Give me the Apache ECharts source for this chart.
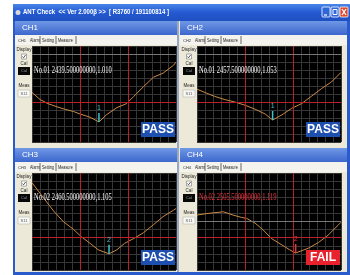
<!DOCTYPE html>
<html>
<head>
<meta charset="utf-8">
<script src="https://cdn.jsdelivr.net/npm/echarts@6/dist/echarts.min.js"></script>
<style>
html,body{margin:0;padding:0;background:#fff}
#main{width:350px;height:275px}
</style>
</head>
<body>
<div id="main"></div>
<script>
// swept traces (x = MHz, y = screen divisions)
const ch1Freq = [2300, 2317, 2333, 2352, 2368, 2387, 2400, 2421, 2439.5, 2455, 2477, 2497, 2512, 2532, 2553, 2573, 2595, 2600];
const ch1Level = [6.2, 5.3, 4.8, 4.4, 4.1, 3.8, 3.5, 3.1, 2.5, 3.4, 4.3, 4.8, 5.7, 6.9, 8.1, 8.6, 9.6, 10.0];

const ch2Freq = [2300, 2320, 2337, 2358, 2379, 2400, 2421, 2442, 2457.5, 2477, 2497, 2518, 2538, 2560, 2580, 2600];
const ch2Level = [6.6, 6.1, 5.7, 5.3, 5.0, 4.6, 4.1, 3.5, 2.75, 3.4, 4.2, 4.8, 5.7, 6.7, 7.5, 8.7];

const ch3Freq = [2300, 2323, 2345, 2365, 2387, 2403, 2421, 2438, 2460.5, 2477, 2493, 2512, 2532, 2553, 2573, 2595, 2600];
const ch3Level = [10.8, 9.0, 7.3, 6.0, 5.0, 4.1, 3.3, 2.5, 2.0, 2.5, 3.3, 3.9, 4.6, 5.6, 6.6, 7.4, 7.6];

const ch4Freq = [2300, 2323, 2355, 2375, 2393, 2403, 2421, 2438, 2455, 2477, 2493, 2505.5, 2532, 2553, 2573, 2595, 2600];
const ch4Level = [6.8, 7.0, 7.2, 6.8, 6.5, 6.4, 5.8, 4.95, 3.9, 3.1, 2.5, 2.1, 2.7, 3.4, 4.3, 5.6, 5.9];

const channels = ['CH1', 'CH2', 'CH3', 'CH4'];
const markerNo = ['No.01', 'No.01', 'No.02', 'No.02'];
const markerIdx = ['1', '1', '2', '2'];
const markerFreq = [2439.5, 2457.5, 2460.5, 2505.5];
const markerLevel = [2.5, 2.75, 2.0, 2.1];
const markerVswr = ['1.010', '1.053', '1.105', '1.119'];
const results = ['PASS', 'PASS', 'PASS', 'FAIL'];
const bandEdges = [2400, 2500];
const limitLevel = [5, 5, 4, 4];
const refLevel = [11, 11, null, 6];
const tabNames = ['Alarm', 'Setting', 'Measure'];
const titleText = 'ANT Check  << Ver 2.000\u03b2 >>  [ R3760 / 191100814 ]';

const freqs = [ch1Freq, ch2Freq, ch3Freq, ch4Freq];
const levels = [ch1Level, ch2Level, ch3Level, ch4Level];

// screen layout
const plotLeft = [32, 197, 32, 197];
const plotTop = [46, 46, 173, 173];
const plotW = 144;
const plotH = [96, 96, 97, 97];

const chart = echarts.init(document.getElementById('main'));

const bg = (el) => Object.assign({ z: -5, silent: true }, el);
const fg = (el) => Object.assign({ z: 20, silent: true }, el);
const txt = (x, y, text, font, fill, align, extra) => Object.assign({
    type: 'text', x: x, y: y,
    style: { text: text, font: font, fill: fill, align: align || 'left', textAlign: align || 'left',
             verticalAlign: 'middle', textVerticalAlign: 'middle' }
}, extra || {});

const graphic = [];

// window frame
graphic.push(bg({ type: 'rect', shape: { x: 13, y: 4, width: 337, height: 271 }, style: { fill: '#2a5bcc' } }));
graphic.push(bg({ type: 'rect', shape: { x: 13, y: 4, width: 337, height: 17 },
    style: { fill: { type: 'linear', x: 0, y: 0, x2: 0, y2: 1,
        colorStops: [{ offset: 0, color: '#4a86e8' }, { offset: 0.5, color: '#2459d2' }, { offset: 1, color: '#1f4fc0' }] } } }));
graphic.push(bg({ type: 'rect', shape: { x: 15, y: 21, width: 332, height: 251 }, style: { fill: '#ece9d8' } }));
graphic.push(bg({ type: 'circle', shape: { cx: 18, cy: 12.5, r: 2.5 }, style: { fill: '#d8d8d8' } }));
graphic.push(bg(txt(23, 12.5, titleText, 'bold 7px "Liberation Sans"', '#ffffff', 'left', { scaleX: 0.86 })));
// caption buttons
[[322, '#2f66d8'], [331, '#2f66d8'], [340, '#e0452a']].forEach((b) => {
    graphic.push(bg({ type: 'rect', shape: { x: b[0], y: 7, width: 8, height: 10, r: 1 },
        style: { fill: b[1], stroke: '#ffffff', lineWidth: 0.8 } }));
});
graphic.push(bg({ type: 'line', shape: { x1: 324, y1: 15, x2: 327, y2: 15 }, style: { stroke: '#fff', lineWidth: 1.2 } }));
graphic.push(bg({ type: 'rect', shape: { x: 333, y: 9.5, width: 4, height: 5 }, style: { fill: 'none', stroke: '#fff', lineWidth: 1 } }));
graphic.push(bg({ type: 'line', shape: { x1: 342, y1: 9, x2: 346, y2: 15 }, style: { stroke: '#fff', lineWidth: 1.3 } }));
graphic.push(bg({ type: 'line', shape: { x1: 346, y1: 9, x2: 342, y2: 15 }, style: { stroke: '#fff', lineWidth: 1.3 } }));
graphic.push(bg({ type: 'line', shape: { x1: 178, y1: 21, x2: 178, y2: 272 }, style: { stroke: '#7d92bf', lineWidth: 1.5 } }));

channels.forEach((name, i) => {
    const px = i % 2 ? 180 : 15;
    const pw = i % 2 ? 167 : 162;
    const ox = i % 2 ? 165 : 0;
    const top = plotTop[i] - 25;
    // panel header
    graphic.push(bg({ type: 'rect', shape: { x: px, y: top, width: pw, height: 14 },
        style: { fill: { type: 'linear', x: 0, y: 0, x2: 0, y2: 1,
            colorStops: [{ offset: 0, color: '#6f98e6' }, { offset: 1, color: '#3d67cc' }] } } }));
    graphic.push(bg(txt(px + 7, top + 7, name, '8px "Liberation Sans"', '#ffffff')));
    // tab row
    graphic.push(bg({ type: 'rect', shape: { x: px, y: top + 14, width: pw, height: 10 }, style: { fill: '#f4f3ee' } }));
    graphic.push(bg(txt(px + 3, top + 19.5, name, '4px "Liberation Sans"', '#333')));
    let tx = px + 15;
    tabNames.forEach((t, k) => {
        const w = [9, 13, 17][k];
        graphic.push(bg(txt(tx, top + 19.5, t, '4.5px "Liberation Sans"', '#222', 'left', { scaleX: 0.85 })));
        graphic.push(bg({ type: 'line', shape: { x1: tx + w + 1, y1: top + 15, x2: tx + w + 1, y2: top + 23 },
            style: { stroke: '#444', lineWidth: 0.8 } }));
        tx += w + 3;
    });
    // left control column
    const cx = 24 + ox;
    const y0 = plotTop[i];
    graphic.push(bg(txt(cx, y0 + 4, 'Display', '4.5px "Liberation Sans"', '#222', 'center')));
    graphic.push(bg({ type: 'rect', shape: { x: cx - 2.5, y: y0 + 8, width: 5, height: 5 }, style: { fill: '#fff', stroke: '#777', lineWidth: 0.6 } }));
    graphic.push(bg({ type: 'polyline', shape: { points: [[cx - 1.5, y0 + 10.5], [cx - 0.5, y0 + 11.8], [cx + 1.6, y0 + 9]] }, style: { stroke: '#333', lineWidth: 0.8, fill: 'none' } }));
    graphic.push(bg(txt(cx, y0 + 17.5, 'Cal', '4.5px "Liberation Sans"', '#222', 'center')));
    graphic.push(bg({ type: 'rect', shape: { x: cx - 6, y: y0 + 21, width: 12, height: 8 }, style: { fill: '#080808' } }));
    graphic.push(bg(txt(cx, y0 + 25, 'Cal', '4px "Liberation Sans"', '#999', 'center')));
    graphic.push(bg(txt(cx, y0 + 40, 'Meas', '4.5px "Liberation Sans"', '#222', 'center')));
    graphic.push(bg({ type: 'rect', shape: { x: cx - 6, y: y0 + 44, width: 12, height: 7 }, style: { fill: '#f8f8f4', stroke: '#aaa', lineWidth: 0.5 } }));
    graphic.push(bg(txt(cx, y0 + 47.5, 'S11', '4px "Liberation Sans"', '#555', 'center')));

    // marker readout
    const readout = markerNo[i] + ' ' + markerFreq[i].toFixed(9) + ',' + markerVswr[i];
    graphic.push(fg(txt(plotLeft[i] + 2, plotTop[i] + 24, readout, '10px "Liberation Serif"',
        i === 3 ? '#e8313c' : '#f2f2f2', 'left', { scaleX: 0.65 })));
    // verdict badge
    const right = plotLeft[i] + plotW;
    const bottom = plotTop[i] + plotH[i];
    graphic.push(fg({ type: 'rect', shape: { x: right - 35, y: bottom - 20, width: 34, height: 15 },
        style: { fill: results[i] === 'PASS' ? '#1d4fae' : '#e8222c' } }));
    graphic.push(fg(txt(right - 18, bottom - 12.5, results[i], 'bold 12px "Liberation Sans"', '#ffffff', 'center')));
});

const option = {
    animation: false,
    grid: channels.map((c, i) => ({
        left: plotLeft[i], top: plotTop[i], width: plotW, height: plotH[i],
        show: true, backgroundColor: '#000', borderWidth: 0
    })),
    xAxis: channels.map((c, i) => ({
        type: 'value', gridIndex: i, min: 2300, max: 2600, interval: 50 / 3,
        axisLine: { show: false }, axisTick: { show: false }, axisLabel: { show: false },
        splitLine: { lineStyle: { color: '#363636', width: 1 } }
    })),
    yAxis: channels.map((c, i) => ({
        type: 'value', gridIndex: i, min: 0, max: 12, interval: 1,
        axisLine: { show: false }, axisTick: { show: false }, axisLabel: { show: false },
        splitLine: { lineStyle: { color: '#363636', width: 1 } }
    })),
    series: channels.map((c, i) => {
        const lines = [
            { xAxis: bandEdges[0], lineStyle: { color: '#b8202c' } },
            { xAxis: bandEdges[1], lineStyle: { color: '#b8202c' } },
            { yAxis: limitLevel[i], lineStyle: { color: '#b8202c' } }
        ];
        if (refLevel[i] !== null) lines.push({ yAxis: refLevel[i], lineStyle: { color: '#777' } });
        return {
            name: c,
            type: 'line',
            xAxisIndex: i,
            yAxisIndex: i,
            data: freqs[i].map((f, k) => [f, levels[i][k]]),
            showSymbol: false,
            lineStyle: { color: '#c98a45', width: 1 },
            markLine: {
                silent: true, symbol: ['none', 'none'], label: { show: false },
                lineStyle: { type: 'solid', width: 1 },
                data: lines
            },
            markPoint: {
                silent: true,
                symbol: 'rect',
                symbolSize: [1.5, 9],
                symbolOffset: [0, -4.5],
                itemStyle: { color: i === 3 ? '#e8313c' : '#3fc3cc' },
                label: { show: true, position: 'top', distance: 1, formatter: markerIdx[i],
                         color: i === 3 ? '#e8313c' : '#3fc3cc', fontSize: 7 },
                data: [{ coord: [markerFreq[i], markerLevel[i]] }]
            }
        };
    }),
    graphic: graphic
};

chart.setOption(option);
</script>
</body>
</html>
